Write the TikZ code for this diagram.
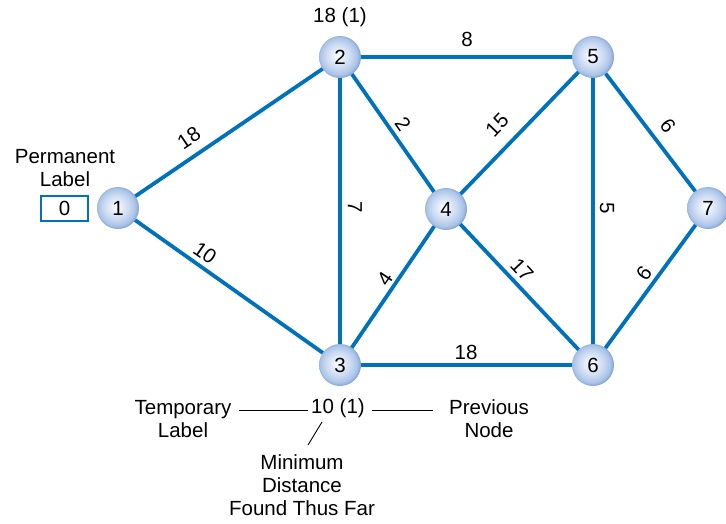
\documentclass[tikz,border=0pt]{standalone}
\usepackage{fontspec}
\setmainfont{Liberation Sans}
\definecolor{edgeblue}{RGB}{0,114,188}
\definecolor{bA}{RGB}{236,242,251}
\definecolor{bB}{RGB}{205,220,242}
\definecolor{bC}{RGB}{172,196,232}
\definecolor{bD}{RGB}{120,156,208}
\pgfdeclareradialshading{ballblue}{\pgfpoint{-3bp}{2bp}}{color(0bp)=(white); color(5bp)=(bA); color(14bp)=(bB); color(22bp)=(bC); color(27bp)=(bD); color(50bp)=(bD)}
\begin{document}
\begin{tikzpicture}[x=1pt,y=-1pt,
  every node/.style={font=\fontsize{20.5}{23}\selectfont, outer sep=0pt},
  vtx/.style={circle, minimum size=42pt, inner sep=0pt, shading=ballblue},
  edge/.style={draw=edgeblue, line width=3.8pt},
  lab/.style={inner sep=1pt},
  ann/.style={draw=black, line width=0.9pt}]
\useasboundingbox (0,0) rectangle (726,523);
% vertices
\node[vtx] (n1) at (118,208) {1};
\node[vtx] (n2) at (340,57) {2};
\node[vtx] (n3) at (340,365) {3};
\node[vtx] (n4) at (446,209) {4};
\node[vtx] (n5) at (593,57) {5};
\node[vtx] (n6) at (593,365) {6};
\node[vtx] (n7) at (708,208) {7};
% edges
\draw[edge] (n1) -- (n2);
\draw[edge] (n1) -- (n3);
\draw[edge] (n2) -- (n5);
\draw[edge] (n2) -- (n3);
\draw[edge] (n2) -- (n4);
\draw[edge] (n4) -- (n5);
\draw[edge] (n3) -- (n4);
\draw[edge] (n4) -- (n6);
\draw[edge] (n3) -- (n6);
\draw[edge] (n5) -- (n6);
\draw[edge] (n5) -- (n7);
\draw[edge] (n6) -- (n7);
% edge labels
\node[lab, rotate=34] (l12) at (189,138) {18};
\node[lab, rotate=-35] (l13) at (205,253) {10};
\node[lab] (l25) at (467,39) {8};
\node[lab, rotate=-55] (l24) at (403,124) {2};
\node[lab, rotate=46] (l45) at (497,125) {15};
\node[lab, rotate=-90] (l23) at (355,207) {7};
\node[lab, rotate=56] (l34) at (385,279) {4};
\node[lab, rotate=-47] (l46) at (522,270) {17};
\node[lab] (l36) at (466,352) {18};
\node[lab, rotate=-90] (l56) at (607,208) {5};
\node[lab, rotate=-53] (l57) at (668,126) {6};
\node[lab, rotate=234] (l67) at (644,273) {9};
% permanent label
\node[align=center] (permlab) at (65,168) {Permanent\\Label};
\node[draw=edgeblue, line width=1.2pt, minimum width=47pt, minimum height=25pt, inner sep=0pt] (perm) at (64.5,208.5) {0};
% temporary label on node 2
\node (t2) at (340,17) {18 (1)};
% annotation under node 3
\node (ten) at (338,408) {10 (1)};
\node[align=center] (tl) at (183,419) {Temporary\\Label};
\node[align=center] (pn) at (489,419) {Previous\\Node};
\node[align=center] (md) at (302,485) {Minimum\\Distance\\Found Thus Far};
\draw[ann] ([xshift=4pt,yshift=-2pt]tl.east |- ten.west) -- ([yshift=-2pt]ten.west);
\draw[ann] ([xshift=4pt,yshift=-2pt]ten.east) -- ([xshift=-13pt,yshift=-2pt]pn.west |- ten.east);
\coordinate (d1) at (322,422);
\coordinate (d2) at (308,445);
\draw[ann] (d1) -- (d2);
\end{tikzpicture}
\end{document}
